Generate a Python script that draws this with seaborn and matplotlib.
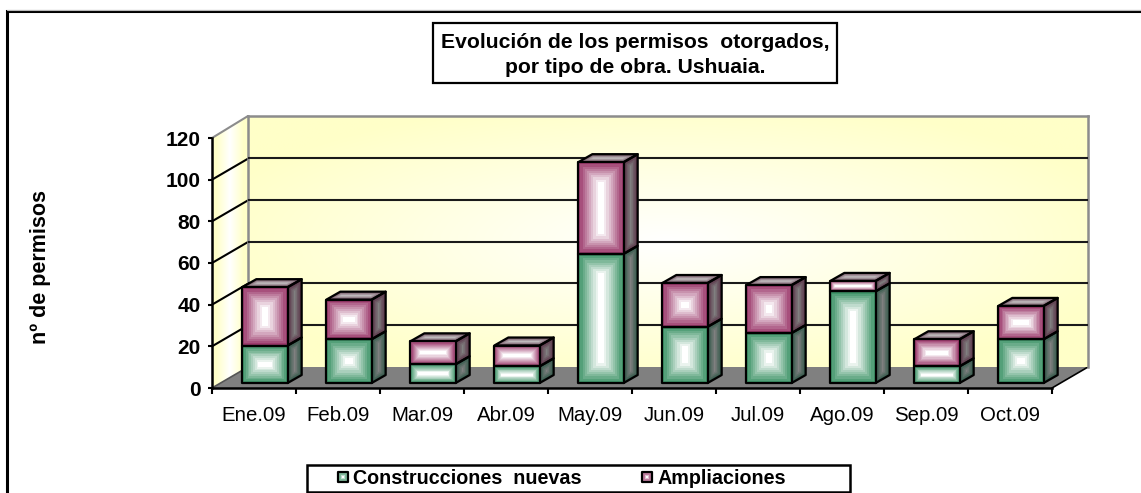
import numpy as np
import pandas as pd
import matplotlib
matplotlib.use("Agg")
import matplotlib.pyplot as plt
from matplotlib.colors import to_rgb
from matplotlib.patches import Polygon, Rectangle
import seaborn as sns

months = ["Ene.09", "Feb.09", "Mar.09", "Abr.09", "May.09",
          "Jun.09", "Jul.09", "Ago.09", "Sep.09", "Oct.09"]
nuevas = [18, 21, 9, 8, 62, 27, 24, 44, 8, 21]
ampliaciones = [28, 19, 11, 10, 44, 21, 23, 5, 13, 16]
y_ticks = [0, 20, 40, 60, 80, 100, 120]

title = "Evolución de los permisos  otorgados,\npor tipo de obra. Ushuaia."
y_label = "nº de permisos"
legend_labels = ["Construcciones  nuevas", "Ampliaciones"]

W, H = 1141, 493
GREEN = "#3f9468"
MAUVE = "#9c3a6c"
DEPTH_X, DEPTH_Y = 14, 8
UNIT_X, UNIT_Y = 84, 250 / 120

sns.set_theme(style="white")
plt.rcParams["font.family"] = ["Liberation Sans", "DejaVu Sans"]

fig = plt.figure(figsize=(W / 100, H / 100), dpi=100, facecolor="white")


def px_axes(left, top, right, bottom, zorder):
    ax = fig.add_axes([left / W, 1 - bottom / H, (right - left) / W, (bottom - top) / H],
                      zorder=zorder)
    ax.patch.set_alpha(0)
    return ax


def mix(c1, c2, t):
    c1, c2 = np.array(to_rgb(c1)), np.array(to_rgb(c2))
    return tuple(c1 + (c2 - c1) * t)


def draw_rings(ax, corners, outer, inner, scale=(1, 1), steps=10, reach=0.86, zorder=3):
    """Stepped gradient on a quad: equal width rings going in to the centre."""
    pts = np.array(corners, dtype=float) * scale
    lu = np.linalg.norm(pts[1] - pts[0])
    lv = np.linalg.norm(pts[3] - pts[0])
    for i in range(steps):
        t = i / (steps - 1)
        d = reach * t * min(lu, lv) / 2
        u, v = d / lu, d / lv
        quad = []
        for a, b in [(u, v), (1 - u, v), (1 - u, 1 - v), (u, 1 - v)]:
            p = (pts[0] * (1 - a) * (1 - b) + pts[1] * a * (1 - b)
                 + pts[2] * a * b + pts[3] * (1 - a) * b)
            quad.append(p / scale)
        ax.add_patch(Polygon(quad, closed=True, fc=mix(outer, inner, t), ec="none",
                             zorder=zorder, clip_on=False))
    ax.add_patch(Polygon(corners, closed=True, fill=False, ec="black", lw=1.6,
                         zorder=zorder + 0.5, clip_on=False, joinstyle="round"))


# page frame, side wall and floor live on one axes in pixels
chrome = px_axes(0, 0, W, H, 0)
chrome.set_xlim(0, W)
chrome.set_ylim(H, 0)
chrome.axis("off")
chrome.plot([7, 7, W], [H, 11, 11], color="black", lw=2.2, solid_joinstyle="miter")
chrome.plot([7, W], [9.5, 9.5], color="#bbbbbb", lw=0.8)

yy, xx = np.mgrid[-1:1:200j, -1:1:400j]
glow = np.clip(np.sqrt(xx ** 2 + yy ** 2) / 1.15, 0, 1)[..., None]
wall_img = np.array(to_rgb("#ffffff")) * (1 - glow) + np.array(to_rgb("#ffffc8")) * glow

side_glow = np.clip(np.abs(np.linspace(-1, 1, 60)) * 1.3, 0, 1)[None, :, None]
side_img = np.array(to_rgb("#ffffff")) * (1 - side_glow) + np.array(to_rgb("#ffffc8")) * side_glow
side_poly = Polygon([(212, 388), (212, 138), (248, 116), (248, 367)], closed=True,
                    fc="none", ec="none", transform=chrome.transData)
chrome.add_patch(side_poly)
side = chrome.imshow(side_img, extent=(212, 248, 388, 116), aspect="auto", zorder=0.5)
side.set_clip_path(side_poly)
chrome.set_xlim(0, W)
chrome.set_ylim(H, 0)

chrome.add_patch(Polygon([(212, 388), (248, 367), (1088, 367), (1052, 388)], closed=True,
                         fc="#808080", ec="none", zorder=1))
chrome.plot([212, 248], [138, 116], color="#8c8c8c", lw=1.5, zorder=2)
for tick in y_ticks[:-1]:
    y_front = 388 - tick * UNIT_Y
    if tick > 0:
        chrome.plot([212, 248], [y_front, y_front - 21], color="black", lw=1.5, zorder=2)
chrome.plot([212, 248], [388, 367], color="#555555", lw=1.2, zorder=2)
chrome.plot([1052, 1088], [388, 367], color="black", lw=1.2, zorder=2)

# back wall
wall = px_axes(248, 116, 1088, 367, 1)
wall.imshow(wall_img, extent=(-0.5, 9.5, 0, 120), aspect="auto", zorder=0)
wall.set_xlim(-0.5, 9.5)
wall.set_ylim(0, 120)
wall.set_xticks([])
wall.set_yticks(y_ticks[1:-1])
wall.tick_params(left=False, labelleft=False)
wall.grid(axis="y", color="#1a1a1a", lw=1.5, zorder=1)
wall.set_axisbelow(False)
for name, spine in wall.spines.items():
    spine.set_visible(name != "bottom")
    spine.set_color("#8c8c8c")
    spine.set_linewidth(1.8)

# front plane carries the scale
front = px_axes(212, 138, 1052, 388, 2)
front.set_xlim(-0.5, 9.5)
front.set_ylim(0, 120)
front.set_yticks(y_ticks)
front.set_yticklabels([str(t) for t in y_ticks], fontsize=15, fontweight="bold", color="black")
front.set_xticks(np.arange(-0.5, 10, 1))
front.set_xticklabels([])
front.set_xticks(np.arange(len(months)), minor=True)
front.set_xticklabels(months, minor=True, fontsize=14.7, color="black")
front.tick_params(axis="x", which="major", bottom=True, direction="out", length=4, width=1.5, color="black")
front.tick_params(axis="x", which="minor", bottom=False, pad=9)
front.tick_params(axis="y", left=True, direction="out", length=3, width=1.5, color="black", pad=5)
for name, spine in front.spines.items():
    spine.set_visible(name in ("left", "bottom"))
    spine.set_color("black")
    spine.set_linewidth(1.8)
front.set_ylabel(y_label, fontsize=15.5, fontweight="bold", color="black", labelpad=0)
front.yaxis.set_label_coords((51 - 212) / 840, (388 - 267) / 250)

# stacked bars, shifted off the front plane onto the floor
bars = px_axes(223, 133, 1063, 383, 3)
df = pd.DataFrame({"month": months, "nuevas": nuevas, "ampliaciones": ampliaciones})
sns.barplot(data=df, x="month", y="nuevas", color=GREEN, width=0.54, saturation=1, ax=bars)
sns.barplot(data=df, x="month", y="ampliaciones", bottom=df["nuevas"], color=MAUVE, width=0.54,
            saturation=1, ax=bars)
bars.set_ylim(0, 120)
bars.set_xlim(-0.5, 9.5)
bars.axis("off")

dx, dy = DEPTH_X / UNIT_X, DEPTH_Y / UNIT_Y
scale = np.array([UNIT_X, UNIT_Y])
n = len(months)
for i, patch in enumerate(list(bars.patches)):
    x0, w = patch.get_x(), patch.get_width()
    y0, h = patch.get_y(), patch.get_height()
    x1, y1 = x0 + w, y0 + h
    is_new = i < n
    base = GREEN if is_new else MAUVE
    side_edge = "#34594a" if is_new else "#5a3448"
    draw_rings(bars, [(x1, y0), (x1 + dx, y0 + dy), (x1 + dx, y1 + dy), (x1, y1)],
               side_edge, "#808080", scale, steps=5, reach=0.9, zorder=3)
    if not is_new:
        draw_rings(bars, [(x0, y1), (x1, y1), (x1 + dx, y1 + dy), (x0 + dx, y1 + dy)],
                   "#70505f", "#c4c0c2", scale, steps=5, reach=0.9, zorder=3)
    draw_rings(bars, [(x0, y0), (x1, y0), (x1, y1), (x0, y1)],
               base, "#ffffff", scale, zorder=4)

# title box
chrome.add_patch(Rectangle((433, 23), 404, 60, fc="white", ec="black", lw=1.6, zorder=5))
chrome.text(635, 55, title, ha="center", va="center", fontsize=15.2, fontweight="bold",
            color="black", linespacing=1.45, zorder=6)

# legend box
chrome.add_patch(Rectangle((307, 465), 543, 27, fc="white", ec="black", lw=1.8, zorder=5))
for sw_x, label, color in zip([338, 642], legend_labels, [GREEN, MAUVE]):
    draw_rings(chrome, [(sw_x, 482), (sw_x + 10, 482), (sw_x + 10, 472), (sw_x, 472)],
               color, "#ffffff", steps=4, zorder=6)
    chrome.text(sw_x + 15, 479, label, ha="left", va="center", fontsize=14.2, fontweight="bold",
                color="black", zorder=6)

fig.savefig("out.png", dpi=100)
